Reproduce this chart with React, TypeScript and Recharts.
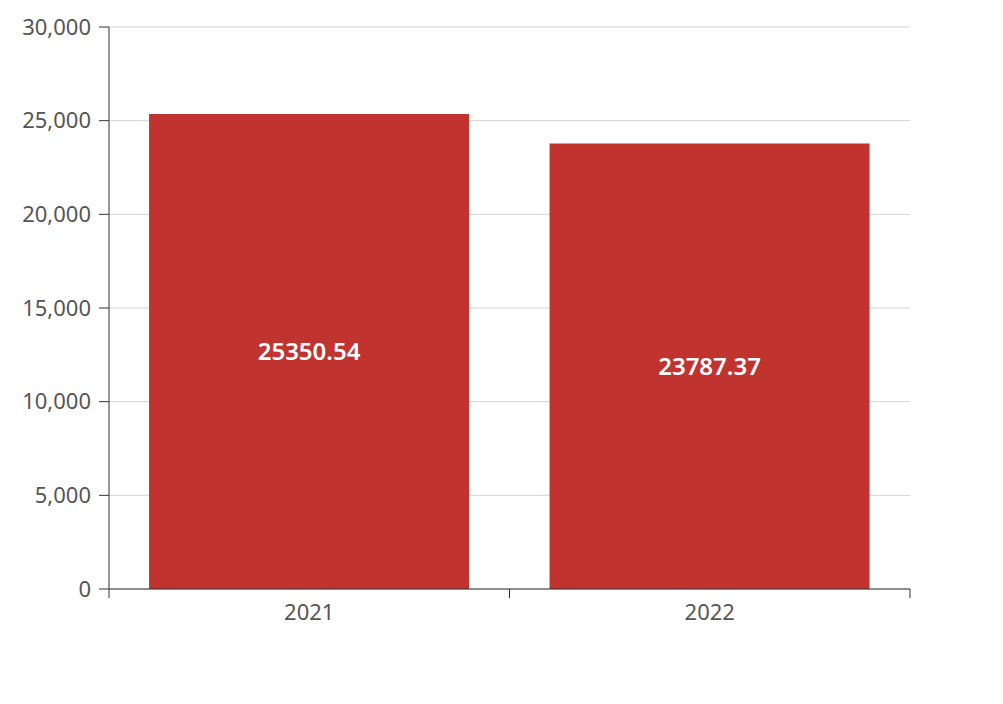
import { BarChart, Bar, XAxis, YAxis, CartesianGrid, LabelList } from 'recharts';

const years = ['2021', '2022'];
const amounts = [25350.54, 23787.37];
const yTicks = [0, 5000, 10000, 15000, 20000, 25000, 30000];

const FONT = '"Noto Sans", "Open Sans", sans-serif';

// category label plus tick marks on the band edges (echarts-style boundary ticks)
function YearTick(props: any) {
  const { x, y, payload, index, visibleTicksCount } = props;
  const half = payload.offset || 0;
  const isLast = index === visibleTicksCount - 1;
  return (
    <g>
      <line x1={x - half} x2={x - half} y1={y} y2={y + 9} stroke="#333" />
      {isLast && <line x1={x + half} x2={x + half} y1={y} y2={y + 9} stroke="#333" />}
      <text x={x} y={y + 31} textAnchor="middle" fill="#555" fontSize={22} fontFamily={FONT}>
        {payload.value}
      </text>
    </g>
  );
}

export default function App() {
  const data = years.map((year, i) => ({ year, amount: amounts[i] }));

  return (
    <div style={{ width: 987, height: 688, fontFamily: FONT }}>
      <BarChart
        width={987}
        height={688}
        data={data}
        margin={{ top: 19, right: 85, bottom: 77, left: 0 }}
        barCategoryGap="10%"
      >
        <CartesianGrid vertical={false} stroke="#d4d4d4" />
        <XAxis
          dataKey="year"
          height={30}
          axisLine={{ stroke: '#333' }}
          tickLine={false}
          tickSize={0}
          tickMargin={0}
          tick={<YearTick />}
        />
        <YAxis
          width={101}
          domain={[0, 30000]}
          ticks={yTicks}
          tickSize={10}
          tickMargin={8}
          stroke="#333"
          tickFormatter={(v: number) => v.toLocaleString('en-US')}
          tick={{ fill: '#555', fontSize: 22, fontFamily: FONT }}
        />
        <Bar dataKey="amount" fill="#c0332f" isAnimationActive={false}>
          <LabelList
            dataKey="amount"
            position="center"
            fill="#fff"
            fontSize={24}
            fontWeight={600}
            fontFamily={FONT}
          />
        </Bar>
      </BarChart>
    </div>
  );
}
